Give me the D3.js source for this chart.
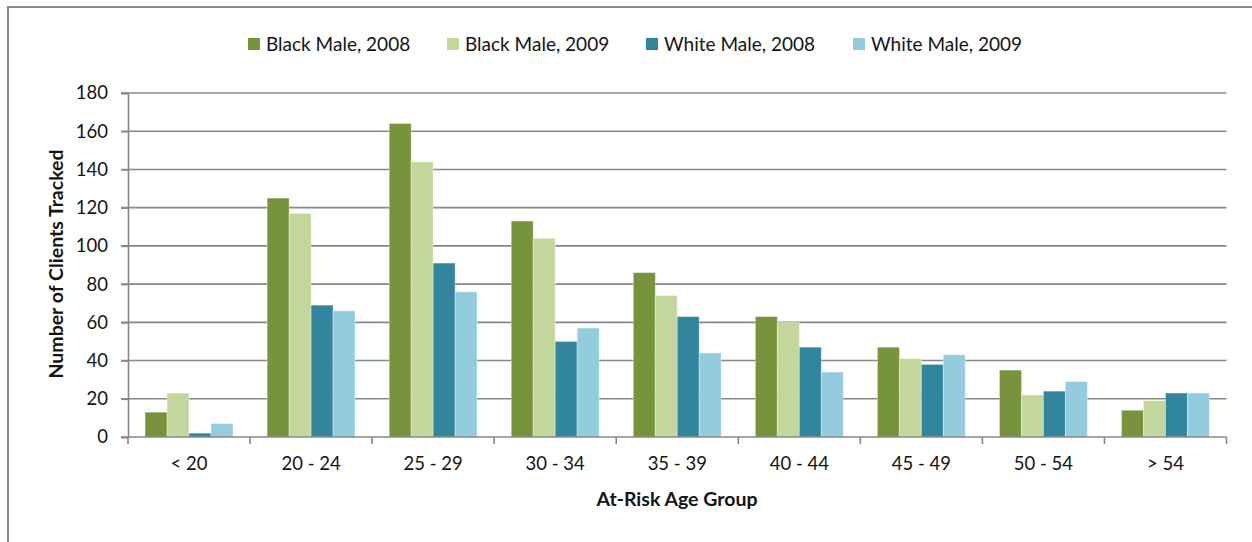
<!DOCTYPE html>
<html>
<head>
<meta charset="utf-8">
<script src="https://cdn.jsdelivr.net/npm/d3@7/dist/d3.min.js"></script>
<style>
  html, body { margin: 0; padding: 0; background: #fff; }
  svg { display: block; }
  text { font-family: Lato, "Open Sans", sans-serif; fill: #141414; }
</style>
</head>
<body>
<svg id="chart" width="1252" height="542"></svg>
<script>
const categories = ["< 20", "20 - 24", "25 - 29", "30 - 34", "35 - 39", "40 - 44", "45 - 49", "50 - 54", "> 54"];
const seriesNames = ["Black Male, 2008", "Black Male, 2009", "White Male, 2008", "White Male, 2009"];
const blackMale2008 = [13, 125, 164, 113, 86, 63, 47, 35, 14];
const blackMale2009 = [23, 117, 144, 104, 74, 60, 41, 22, 19];
const whiteMale2008 = [2, 69, 91, 50, 63, 47, 38, 24, 23];
const whiteMale2009 = [7, 66, 76, 57, 44, 34, 43, 29, 23];
const seriesColors = ["#77933C", "#C3D69B", "#31859C", "#93CDDD"];
const yTicks = [0, 20, 40, 60, 80, 100, 120, 140, 160, 180];
const yTitle = "Number of Clients Tracked";
const xTitle = "At-Risk Age Group";

const seriesValues = [blackMale2008, blackMale2009, whiteMale2008, whiteMale2009];

const svg = d3.select("#chart");
const plot = { left: 128, right: 1226.5, top: 93, bottom: 437 };
const gridColor = "#878787";

// outer frame (partially visible, as in the reference)
svg.append("path")
  .attr("d", `M8,542 L8,7 L1252,7`)
  .attr("fill", "none").attr("stroke", "#8a8a8a").attr("stroke-width", 2);

const x0 = d3.scaleBand().domain(categories).range([plot.left, plot.right])
  .paddingInner(0.28).paddingOuter(0.14);
const x1 = d3.scaleBand().domain(seriesNames).range([0, x0.bandwidth()]).padding(0);
const y = d3.scaleLinear().domain([0, 180]).range([plot.bottom, plot.top]);

// gridlines
svg.append("g").selectAll("line").data(yTicks.filter(d => d > 0)).join("line")
  .attr("x1", plot.left - 7).attr("x2", plot.right)
  .attr("y1", d => y(d)).attr("y2", d => y(d))
  .attr("stroke", gridColor).attr("stroke-width", 1.6);

// y axis
const yAxis = svg.append("g").attr("transform", `translate(${plot.left},0)`)
  .call(d3.axisLeft(y).tickValues(yTicks).tickSize(7).tickPadding(13));
yAxis.select(".domain").attr("stroke", gridColor).attr("stroke-width", 1.6);
yAxis.selectAll(".tick line").attr("stroke", gridColor).attr("stroke-width", 1.6);
yAxis.selectAll(".tick text").attr("font-size", 18.5).attr("font-family", "Lato, sans-serif").attr("fill", "#141414");

// bars
const rows = categories.map((c, i) => ({ cat: c, vals: seriesValues.map((s, j) => ({ name: seriesNames[j], v: s[i], color: seriesColors[j] })) }));
const groups = svg.append("g").selectAll("g").data(rows).join("g")
  .attr("transform", d => `translate(${x0(d.cat)},0)`);
groups.selectAll("rect").data(d => d.vals).join("rect")
  .attr("x", d => x1(d.name))
  .attr("y", d => y(d.v))
  .attr("width", x1.bandwidth())
  .attr("height", d => y(0) - y(d.v))
  .attr("fill", d => d.color)
  .attr("stroke", "rgba(255,255,255,0.35)")
  .attr("stroke-width", 1);

// x axis
const catBounds = d3.range(categories.length + 1).map(i => plot.left + i * (plot.right - plot.left) / categories.length);
const xAxis = svg.append("g").attr("transform", `translate(0,${plot.bottom})`)
  .call(d3.axisBottom(x0).tickSize(0).tickPadding(20));
xAxis.select(".domain").remove();
xAxis.selectAll(".tick text").attr("font-size", 18.5).attr("font-family", "Lato, sans-serif").attr("fill", "#141414");
svg.append("line").attr("x1", plot.left - 7).attr("x2", plot.right)
  .attr("y1", plot.bottom).attr("y2", plot.bottom)
  .attr("stroke", gridColor).attr("stroke-width", 1.6);
svg.append("g").selectAll("line").data(catBounds).join("line")
  .attr("x1", d => d).attr("x2", d => d)
  .attr("y1", plot.bottom).attr("y2", plot.bottom + 7)
  .attr("stroke", gridColor).attr("stroke-width", 1.6);

// axis titles
svg.append("text").attr("transform", `translate(63,${(plot.top + plot.bottom) / 2 - 1}) rotate(-90)`)
  .attr("text-anchor", "middle").attr("font-weight", "bold").attr("font-size", 19.5)
  .text(yTitle);
svg.append("text").attr("x", 677).attr("y", 506)
  .attr("text-anchor", "middle").attr("font-weight", "bold").attr("font-size", 19.5)
  .text(xTitle);

// legend
const legendX = [248, 447, 646, 853];
const legend = svg.append("g").selectAll("g").data(seriesNames).join("g")
  .attr("transform", (d, i) => `translate(${legendX[i]},38)`);
legend.append("rect").attr("width", 12).attr("height", 12).attr("fill", (d, i) => seriesColors[i]);
legend.append("text").attr("x", 18).attr("y", 12.5).attr("font-size", 19).text(d => d);
</script>
</body>
</html>
